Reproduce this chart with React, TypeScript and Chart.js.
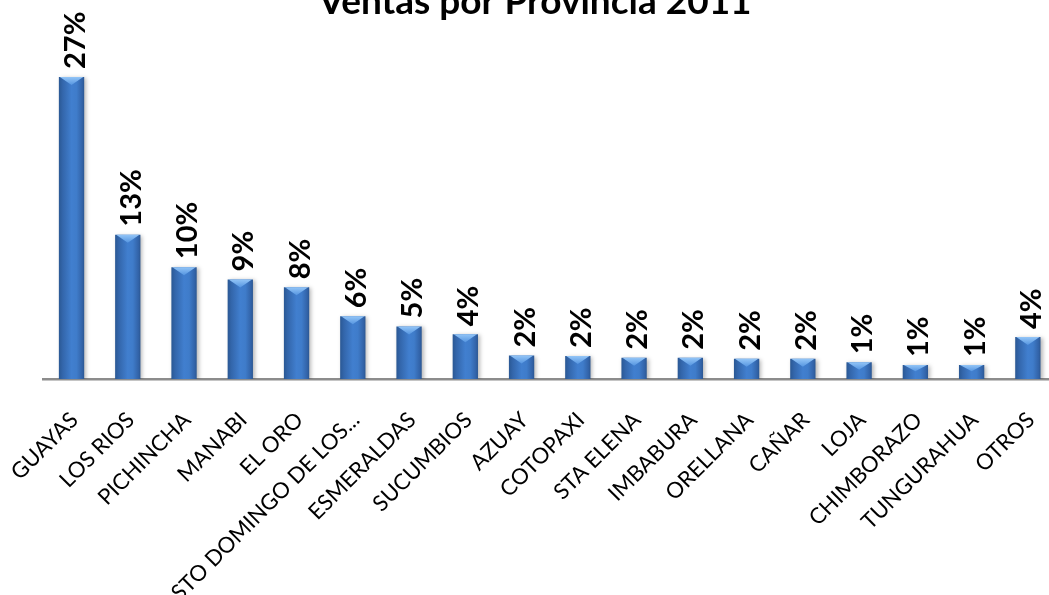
import React, { useEffect, useRef } from "react";
import { Chart, registerables } from "chart.js";

Chart.register(...registerables);

const categories = [
  "GUAYAS",
  "LOS RIOS",
  "PICHINCHA",
  "MANABI",
  "EL ORO",
  "STO DOMINGO DE LOS...",
  "ESMERALDAS",
  "SUCUMBIOS",
  "AZUAY",
  "COTOPAXI",
  "STA ELENA",
  "IMBABURA",
  "ORELLANA",
  "CAÑAR",
  "LOJA",
  "CHIMBORAZO",
  "TUNGURAHUA",
  "OTROS",
];
const shares = [27.0, 12.9, 10.0, 8.9, 8.2, 5.6, 4.7, 4.0, 2.1, 2.05, 1.9, 1.9, 1.8, 1.8, 1.5, 1.25, 1.25, 3.75];
const shareLabels = ["27%", "13%", "10%", "9%", "8%", "6%", "5%", "4%", "2%", "2%", "2%", "2%", "2%", "2%", "1%", "1%", "1%", "4%"];
const chartTitle = "Ventas por Provincia 2011";
const yMax = 30;

const BAR_FRACTION = 0.45;

export default function App() {
  const ref = useRef<HTMLCanvasElement>(null);

  useEffect(() => {
    document.body.style.margin = "0";
    document.body.style.overflow = "hidden";
    const canvas = ref.current!;

    const decor = {
      id: "decor",
      beforeDatasetsDraw(chart: any) {
        const ctx = chart.ctx;
        ctx.save();
        ctx.shadowColor = "rgba(0,0,0,0.28)";
        ctx.shadowBlur = 4;
        ctx.shadowOffsetX = 2;
        ctx.shadowOffsetY = 1;
      },
      afterDatasetsDraw(chart: any) {
        const ctx = chart.ctx;
        ctx.restore();
        const meta = chart.getDatasetMeta(0);
        meta.data.forEach((el: any, i: number) => {
          const { x, y, width } = el.getProps(["x", "y", "width"], true);
          const l = x - width / 2;
          const r = x + width / 2;
          const bh = Math.min(8, (chart.chartArea.bottom - y) * 0.45);
          // top bevel
          ctx.save();
          const g = ctx.createLinearGradient(0, y, 0, y + bh);
          g.addColorStop(0, "#93c5f7");
          g.addColorStop(1, "#5595e0");
          ctx.fillStyle = g;
          ctx.beginPath();
          ctx.moveTo(l + 1, y);
          ctx.lineTo(r - 1, y);
          ctx.lineTo(x, y + bh);
          ctx.closePath();
          ctx.fill();
          ctx.restore();
          // value label
          ctx.save();
          ctx.translate(x + 13, y - 8);
          ctx.rotate(-Math.PI / 2);
          ctx.font = "bold 29px Lato";
          ctx.fillStyle = "#000";
          ctx.textAlign = "left";
          ctx.textBaseline = "alphabetic";
          ctx.fillText(shareLabels[i], 0, 0);
          ctx.restore();
        });
        // title
        ctx.save();
        ctx.font = "bold 37px Lato";
        ctx.fillStyle = "#000";
        ctx.textAlign = "center";
        ctx.textBaseline = "alphabetic";
        ctx.fillText(chartTitle, 535, 14);
        ctx.restore();
      },
    };

    const chart = new Chart(canvas, {
      type: "bar",
      data: {
        labels: categories,
        datasets: [
          {
            data: shares,
            categoryPercentage: 1,
            barPercentage: BAR_FRACTION,
            borderWidth: 0,
            backgroundColor: (c: any) => {
              const ch = c.chart;
              const xs = ch.scales && ch.scales.x;
              if (!xs || c.type !== "data" || !ch.chartArea) return "#3b79c9";
              const cx = xs.getPixelForValue(c.dataIndex);
              const w = (xs.width / categories.length) * BAR_FRACTION;
              const g = ch.ctx.createLinearGradient(cx - w / 2, 0, cx + w / 2, 0);
              g.addColorStop(0, "#2a5894");
              g.addColorStop(0.15, "#3366ab");
              g.addColorStop(0.5, "#417fcf");
              g.addColorStop(0.7, "#3f7cca");
              g.addColorStop(0.92, "#3263a8");
              g.addColorStop(1, "#2b5792");
              return g;
            },
          },
        ],
      },
      options: {
        animation: false,
        responsive: false,
        devicePixelRatio: 1,
        layout: { padding: { left: 43.4, top: 43.4, right: 0, bottom: 0 } },
        plugins: { legend: { display: false }, tooltip: { enabled: false }, title: { display: false } },
        scales: {
          y: { display: false, min: 0, max: yMax },
          x: {
            grid: { display: false },
            border: { display: true, color: "#8c8c8c", width: 2.5 },
            ticks: {
              autoSkip: false,
              minRotation: 45,
              maxRotation: 45,
              padding: 20,
              labelOffset: 3,
              color: "#000",
              font: { family: "Lato", size: 22 },
            },
            afterFit: (s: any) => {
              s.height = 216;
              s.paddingLeft = 0;
              s.paddingRight = 0;
            },
          },
        },
      },
      plugins: [decor],
    } as any);

    return () => chart.destroy();
  }, []);

  return (
    <div style={{ position: "fixed", left: 0, top: 0, width: 1049, height: 595, overflow: "hidden", background: "#fff" }}>
      <canvas ref={ref} width={1056} height={595} style={{ display: "block" }} />
    </div>
  );
}
